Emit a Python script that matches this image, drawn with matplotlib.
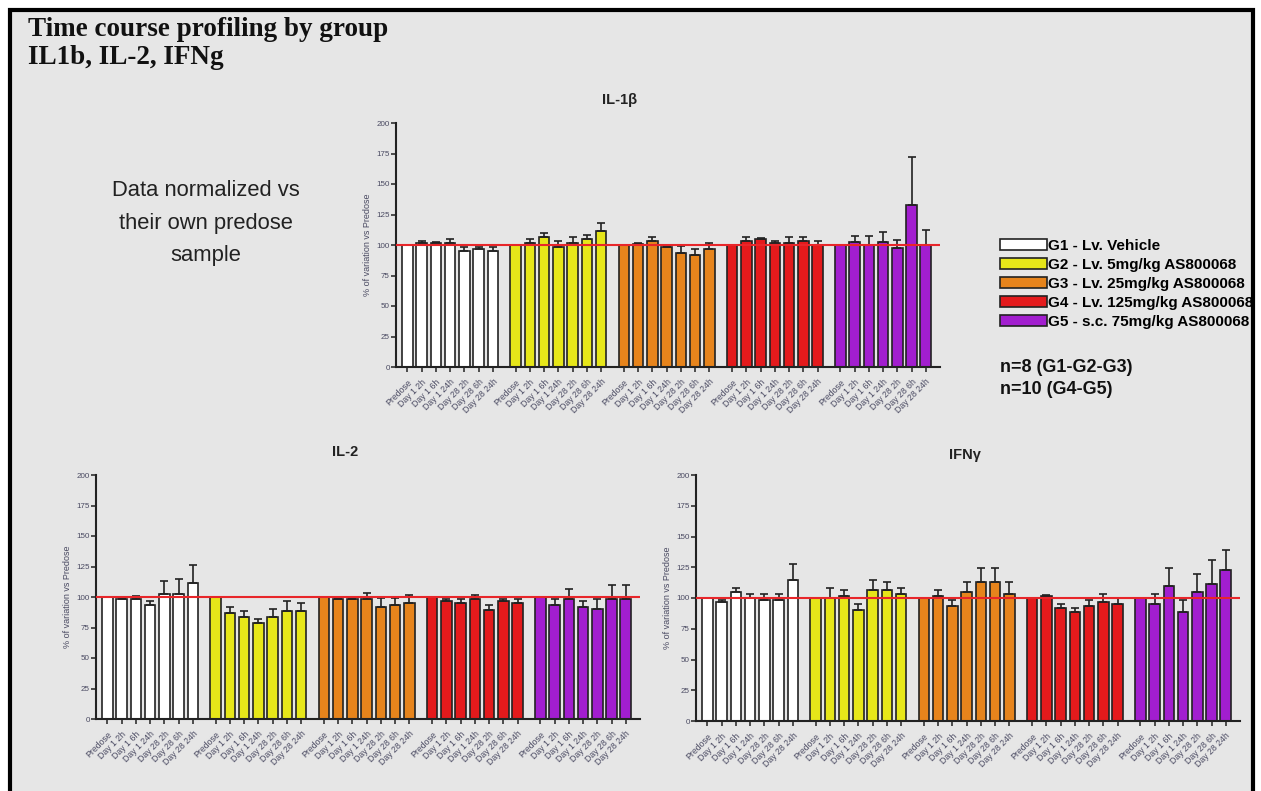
import matplotlib
matplotlib.use("Agg")
import matplotlib.pyplot as plt
from matplotlib.patches import Rectangle, Patch
import numpy as np

W, H = 1261, 791

timepoints = ["Predose", "Day 1 2h", "Day 1 6h", "Day 1 24h",
              "Day 28 2h", "Day 28 6h", "Day 28 24h"]
groups = ["G1 - Lv. Vehicle", "G2 - Lv. 5mg/kg AS800068",
          "G3 - Lv. 25mg/kg AS800068", "G4 - Lv. 125mg/kg AS800068",
          "G5 - s.c. 75mg/kg AS800068"]
group_colors = ["#ffffff", "#e6e619", "#e6841c", "#e41a1c", "#a21ecf"]

# IL-1beta: mean % of predose and upper SEM, one list per group
il1b_mean = [
    [100, 101.4, 102.0, 101.4, 95.4, 96.7, 95.4],
    [100, 101.4, 106.5, 98.6, 101.4, 104.9, 111.7],
    [100, 100.5, 103.3, 98.6, 93.7, 91.8, 96.7],
    [100, 103.3, 104.9, 101.9, 101.4, 103.3, 100.0],
    [100, 102.2, 100.0, 102.2, 97.3, 133.0, 100.0],
]
il1b_err = [
    [0, 1.9, 0.7, 3.5, 3.2, 1.9, 3.2],
    [0, 3.8, 3.3, 4.7, 5.1, 3.5, 6.6],
    [0, 1.1, 3.2, 0.5, 5.2, 4.9, 4.9],
    [0, 3.2, 1.1, 1.4, 5.1, 3.2, 3.3],
    [0, 4.8, 7.0, 8.2, 6.5, 39.5, 12.0],
]

# IL-2
il2_mean = [
    [100, 98.1, 98.1, 93.2, 102.7, 102.7, 111.2],
    [100, 86.6, 83.4, 78.4, 83.4, 88.3, 88.3],
    [100, 98.1, 98.1, 98.1, 91.5, 93.2, 94.8],
    [100, 96.5, 94.8, 98.1, 89.4, 96.5, 94.8],
    [100, 93.2, 98.1, 91.5, 89.9, 98.1, 98.1],
]
il2_err = [
    [0, 0.8, 3.0, 3.3, 10.1, 12.0, 14.7],
    [0, 5.2, 4.9, 3.3, 6.5, 8.2, 6.5],
    [0, 0.3, 0.3, 4.9, 7.4, 5.7, 6.5],
    [0, 1.6, 3.3, 3.3, 3.8, 1.6, 3.3],
    [0, 4.9, 8.2, 4.9, 8.2, 11.5, 11.5],
]

# IFN-gamma
ifng_mean = [
    [100, 96.8, 104.9, 100.0, 98.4, 98.4, 114.9],
    [100, 100.0, 101.6, 90.3, 106.5, 106.5, 103.2],
    [100, 101.6, 93.5, 104.9, 113.0, 113.0, 103.2],
    [100, 101.6, 91.9, 88.6, 93.5, 96.8, 95.0],
    [100, 95.0, 109.7, 88.6, 104.9, 111.4, 122.7],
]
ifng_err = [
    [0, 1.6, 3.2, 3.2, 4.8, 4.8, 13.0],
    [0, 8.1, 4.9, 4.7, 8.1, 6.5, 4.9],
    [0, 4.9, 4.9, 8.1, 11.3, 11.3, 9.8],
    [0, 0.6, 3.1, 3.3, 4.9, 6.4, 5.0],
    [0, 8.2, 14.6, 9.8, 14.6, 19.7, 16.5],
]

reference_level = 100
y_ticks = [0, 25, 50, 75, 100, 125, 150, 175, 200]

BG = "#e6e6e6"
INK = "#222222"
LABEL_INK = "#4a4a62"
SANS = ["Liberation Sans", "DejaVu Sans"]
plt.rcParams["font.family"] = SANS

fig = plt.figure(figsize=(W / 100, H / 100), dpi=100, facecolor="white")


def fx(px):
    return px / W


def fy(py):
    return 1 - py / H


# page frame, kept underneath the axes
fig.patches.append(Rectangle((fx(10), fy(800)), fx(1253) - fx(10), fy(10) - fy(800),
                             transform=fig.transFigure, facecolor=BG,
                             edgecolor="black", linewidth=3, zorder=-10))

fig.text(fx(28), fy(29), "Time course profiling by group", family="Liberation Serif",
         fontweight="bold", fontsize=19.5, va="center", ha="left", color="#111111")
fig.text(fx(28), fy(58), "IL1b, IL-2, IFNg", family="Liberation Serif",
         fontweight="bold", fontsize=19.5, va="center", ha="left", color="#111111")

fig.text(fx(206), fy(223), "Data normalized vs\ntheir own predose\nsample",
         fontsize=15.8, ha="center", va="center", linespacing=1.72, color="#222222")

GROUP_STRIDE = 7.6
BAR_W = 0.74


def panel(left, right, top, bottom, means, errs, title, title_xy):
    ax = fig.add_axes([fx(left), fy(bottom), fx(right) - fx(left), fy(top) - fy(bottom)])
    ax.set_facecolor("none")
    positions = []
    for g, (m, e) in enumerate(zip(means, errs)):
        x = g * GROUP_STRIDE + np.arange(len(timepoints))
        positions.extend(x)
        ax.bar(x, m, width=BAR_W, color=group_colors[g], edgecolor=INK,
               linewidth=1.2, zorder=2)
        e = np.asarray(e, dtype=float)
        ax.errorbar(x, m, yerr=[np.zeros_like(e), e], fmt="none", ecolor=INK,
                    elinewidth=1.2, capsize=2.6, capthick=1.2, zorder=3)
    ax.axhline(reference_level, color="#e8262a", linewidth=1.5, zorder=4)
    ax.set_xlim(-0.8, 4 * GROUP_STRIDE + 6 + 1.0)
    ax.set_ylim(0, 200)
    ax.set_yticks(y_ticks)
    ax.set_xticks(positions)
    ax.set_xticklabels(timepoints * len(means), rotation=45, ha="right",
                       rotation_mode="anchor", fontsize=6.3, color=LABEL_INK)
    ax.tick_params(axis="y", labelsize=5.8, labelcolor=LABEL_INK, length=3.5,
                   width=1.1, color=INK, pad=1)
    ax.tick_params(axis="x", length=3.5, width=1.1, color=INK, pad=4)
    for s in ("top", "right"):
        ax.spines[s].set_visible(False)
    for s in ("left", "bottom"):
        ax.spines[s].set_color(INK)
        ax.spines[s].set_linewidth(1.5)
    ax.set_ylabel("% of variation vs Predose", fontsize=6.5, color=LABEL_INK, labelpad=3)
    fig.text(fx(title_xy[0]), fy(title_xy[1]), title, fontsize=10.5, fontweight="bold",
             ha="center", va="center", color="#222222")
    return ax


panel(396, 940, 123, 367, il1b_mean, il1b_err, "IL-1\u03b2", (620, 100))
panel(96, 640, 475, 719, il2_mean, il2_err, "IL-2", (345, 452))
panel(696, 1240, 475, 721, ifng_mean, ifng_err, "IFN\u03b3", (965, 455))

handles = [Patch(facecolor=c, edgecolor=INK, linewidth=1.2) for c in group_colors]
fig.legend(handles, groups, loc="upper left",
           bbox_to_anchor=(fx(1000), fy(239)), frameon=False,
           prop={"family": SANS, "weight": "bold", "size": 11},
           handlelength=3.05, handleheight=0.72, handletextpad=0.1,
           labelspacing=0.33, borderpad=0, borderaxespad=0)

fig.text(fx(1000), fy(368), "n=8 (G1-G2-G3)", fontsize=13, fontweight="bold",
         ha="left", va="center", color="#111111")
fig.text(fx(1000), fy(389), "n=10 (G4-G5)", fontsize=13, fontweight="bold",
         ha="left", va="center", color="#111111")

fig.savefig("out.png", dpi=100, facecolor="white")
